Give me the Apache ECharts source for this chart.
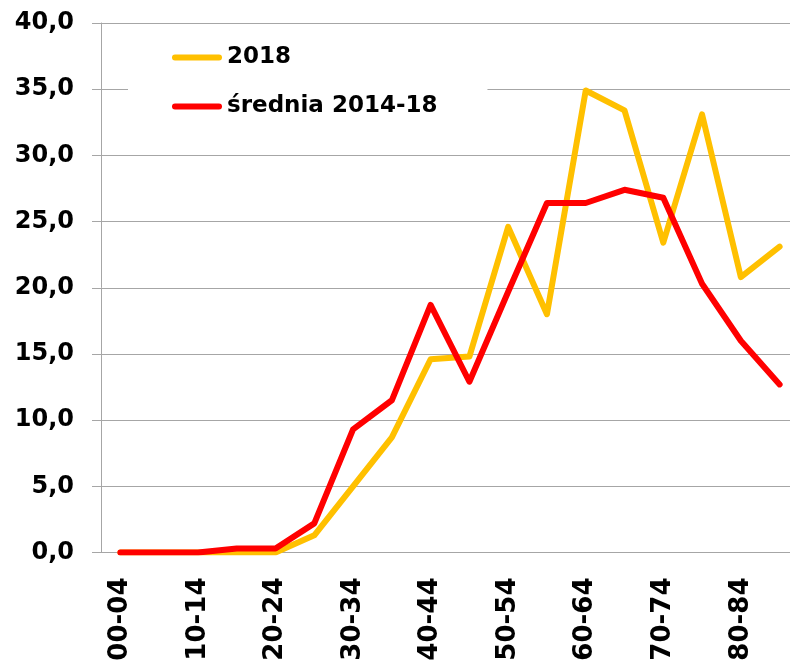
<!DOCTYPE html>
<html>
<head>
<meta charset="utf-8">
<script src="https://cdn.jsdelivr.net/npm/echarts@6/dist/echarts.min.js"></script>
<style>
  html, body { margin: 0; padding: 0; background: #fff; overflow: hidden; }
  #chart { width: 799px; height: 669px; }
</style>
</head>
<body>
<div id="chart"></div>
<script>
// Age groups (5-year bands)
const ageGroups = ['00-04', '05-09', '10-14', '15-19', '20-24', '25-29', '30-34', '35-39',
  '40-44', '45-49', '50-54', '55-59', '60-64', '65-69', '70-74', '75-79', '80-84', '85+'];

// Rates for 2018
const values2018 = [0, 0, 0, 0, 0, 1.3, 5.0, 8.7, 14.6, 14.8, 24.6, 18.0, 34.9, 33.4, 23.4, 33.1, 20.8, 23.1];

// Five-year average 2014-18
const valuesAvg = [0, 0, 0, 0.3, 0.3, 2.2, 9.3, 11.5, 18.7, 12.9, 19.7, 26.4, 26.4, 27.4, 26.8, 20.3, 16.0, 12.7];

const seriesNames = ['2018', 'średnia 2014-18'];
const seriesColors = ['#FFC000', '#FF0000'];

// Y axis range
const yMin = 0, yMax = 40, yStep = 5;

const FONT = '"DejaVu Sans", Verdana, sans-serif';
const GRID_GRAY = '#a6a6a6';

const chart = echarts.init(document.getElementById('chart'), null, { renderer: 'canvas' });

const legendIcon = 'path://M3,0 L47,0 A3,3 0 0 1 47,6 L3,6 A3,3 0 0 1 3,0 Z';

chart.setOption({
  animation: false,
  backgroundColor: '#ffffff',
  // the plot area runs a little past the right edge of the window
  grid: { left: 101, right: 0, top: 23, bottom: 116.5, containLabel: false },
  legend: {
    orient: 'vertical',
    left: 128,
    top: 26,
    padding: [20, 50, 20, 44],
    backgroundColor: '#ffffff',
    itemWidth: 50,
    itemHeight: 6,
    itemGap: 26,
    icon: legendIcon,
    data: seriesNames,
    textStyle: {
      fontFamily: FONT, fontWeight: 'bold', fontSize: 23, color: '#000', lineHeight: 22
    }
  },
  xAxis: {
    type: 'category',
    data: ageGroups,
    boundaryGap: true,
    axisLine: { lineStyle: { color: GRID_GRAY, width: 1 } },
    axisTick: { interval: 0, length: 9, lineStyle: { color: GRID_GRAY } },
    axisLabel: {
      interval: 1,
      rotate: 90,
      margin: 25,
      fontFamily: FONT, fontWeight: 'bold', fontSize: 26, color: '#000'
    },
    splitLine: { show: false }
  },
  yAxis: {
    type: 'value',
    min: yMin, max: yMax, interval: yStep,
    axisLine: { show: true, lineStyle: { color: GRID_GRAY, width: 1 } },
    axisTick: { show: true, length: 9, lineStyle: { color: GRID_GRAY } },
    axisLabel: {
      margin: 27,
      fontFamily: FONT, fontWeight: 'bold', fontSize: 24, color: '#000',
      formatter: v => v.toFixed(1).replace('.', ',')
    },
    splitLine: { lineStyle: { color: GRID_GRAY, width: 1 } }
  },
  series: [
    {
      name: seriesNames[0], type: 'line', data: values2018,
      showSymbol: false, symbol: 'none', smooth: false,
      color: seriesColors[0],
      lineStyle: { color: seriesColors[0], width: 6, join: 'round', cap: 'round' },
      z: 2
    },
    {
      name: seriesNames[1], type: 'line', data: valuesAvg,
      showSymbol: false, symbol: 'none', smooth: false,
      color: seriesColors[1],
      lineStyle: { color: seriesColors[1], width: 6, join: 'round', cap: 'round' },
      z: 3
    }
  ]
});
</script>
</body>
</html>
